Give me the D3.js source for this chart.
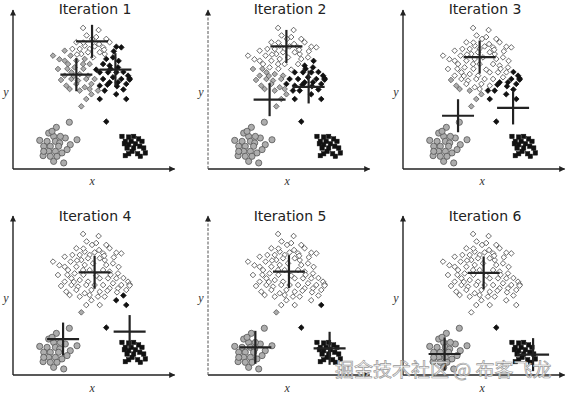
<!DOCTYPE html>
<html>
<head>
<meta charset="utf-8">
<script src="https://cdn.jsdelivr.net/npm/d3@7"></script>
<style>
  body { margin: 0; background: #fff; }
  svg { display: block; }
</style>
</head>
<body>
<div id="chart"></div>
<script>
var w = 566;
var h = 394;

// iteration titles
var iterations = ["Iteration 1", "Iteration 2", "Iteration 3", "Iteration 4", "Iteration 5", "Iteration 6"];

// points (same in every panel), x / y in data units 0..10
var diamonds = [
  [4.38, 8.87], [5.35, 8.74], [4.94, 8.18], [5.83, 8.18], [3.96, 7.97], [5.38, 7.86],
  [6.04, 7.97], [4.48, 7.76], [3.71, 7.55], [4.17, 7.55], [4.79, 7.55], [5.10, 7.71],
  [5.63, 7.65], [6.46, 7.69], [6.77, 7.65], [2.50, 7.13], [3.23, 7.44], [3.60, 7.13],
  [4.27, 7.23], [4.69, 7.34], [5.42, 7.34], [5.73, 7.23], [3.23, 6.81], [3.96, 6.81],
  [4.48, 6.92], [5.00, 7.02], [5.83, 6.92], [6.25, 7.02], [2.81, 6.29], [3.44, 6.60],
  [3.85, 6.39], [4.38, 6.60], [4.79, 6.60], [5.63, 6.60], [6.04, 6.50], [6.56, 6.39],
  [3.23, 5.87], [3.65, 6.08], [4.17, 5.97], [4.69, 5.87], [5.42, 6.08], [5.94, 6.08],
  [6.46, 6.08], [7.19, 5.87], [7.29, 5.70], [3.65, 5.66], [4.06, 5.56], [4.58, 5.66],
  [5.10, 5.66], [5.63, 5.66], [6.25, 5.77], [6.77, 5.66], [3.33, 5.24], [3.96, 5.35],
  [4.48, 5.14], [4.90, 5.35], [5.42, 5.24], [6.04, 5.45], [6.56, 5.45], [7.08, 5.35],
  [3.54, 5.03], [4.17, 4.93], [4.79, 5.03], [5.31, 4.93], [5.73, 4.93], [4.58, 4.40],
  [5.42, 4.40], [4.27, 3.94], [2.90, 6.90], [3.00, 5.60], [4.00, 7.20], [4.60, 8.40],
  [5.20, 8.30], [6.30, 7.40], [6.60, 6.80], [6.90, 6.10], [6.90, 5.00], [3.80, 5.85],
  [4.40, 6.30], [5.20, 6.25], [5.90, 5.30], [6.10, 6.30], [3.40, 6.30], [4.90, 4.70],
  [5.70, 7.50], [4.40, 7.95], [6.50, 5.20], [7.29, 5.62], [6.45, 4.70], [7.08, 4.40],
  [5.83, 2.98]
];

var circles = [
  [3.52, 2.94], [2.71, 2.62], [2.23, 2.26], [2.54, 2.05], [3.27, 1.95], [4.00, 1.84],
  [1.67, 1.80], [2.13, 1.74], [2.65, 1.74], [2.92, 1.64], [1.92, 1.43], [2.33, 1.43],
  [2.85, 1.43], [3.58, 1.53], [2.23, 1.11], [2.65, 1.11], [3.06, 1.01], [1.88, 0.84],
  [2.33, 0.80], [2.54, 0.48], [3.17, 0.38], [2.44, 2.37], [2.96, 2.05], [3.38, 1.22],
  [1.92, 1.11], [2.75, 0.80]
];

var squares = [
  [6.81, 2.05], [7.23, 2.01], [7.54, 2.05], [7.85, 1.89], [7.02, 1.74], [7.38, 1.74],
  [6.96, 1.59], [7.23, 1.53], [7.65, 1.59], [8.06, 1.74], [7.13, 1.32], [7.54, 1.32],
  [7.92, 1.43], [8.17, 1.32], [7.44, 1.11], [7.23, 0.96], [7.79, 0.96], [8.27, 1.01],
  [7.02, 0.84], [7.96, 0.80]
];

// centroids per iteration
var whiteCentroids = [[4.94, 8.03], [4.90, 7.71], [4.79, 7.04], [5.10, 6.46], [5.06, 6.50], [5.04, 6.42]];
var grayCentroids  = [[3.96, 5.93], [3.85, 4.36], [3.44, 3.35], [3.13, 2.26], [2.96, 1.74], [2.60, 1.32]];
var blackCentroids = [[6.40, 6.25], [6.29, 5.16], [6.88, 3.84], [7.29, 2.73], [7.60, 1.68], [8.13, 1.28]];

var fills = ["#ffffff", "#adadad", "#111111"];
var strokes = ["#444444", "#555555", "#111111"];

var colX = [13, 208, 403];
var rowY = [169, 375];

var svg = d3.select("#chart")
            .append("svg")
            .attr("width", w)
            .attr("height", h);

var defs = svg.append("defs");
defs.append("marker")
    .attr("id", "arrow")
    .attr("viewBox", "0 0 10 10")
    .attr("refX", 9)
    .attr("refY", 5)
    .attr("markerWidth", 7)
    .attr("markerHeight", 6)
    .attr("markerUnits", "userSpaceOnUse")
    .attr("orient", "auto")
    .append("path")
    .attr("d", "M0,0 L10,5 L0,10 Z")
    .attr("fill", "#222");

function nearest(p, k) {
    var cs = [whiteCentroids[k], grayCentroids[k], blackCentroids[k]];
    var best = 0, bd = Infinity;
    cs.forEach(function(c, i) {
        var d = (p[0] - c[0]) * (p[0] - c[0]) + (p[1] - c[1]) * (p[1] - c[1]);
        if (d < bd) { bd = d; best = i; }
    });
    return best;
}

var diamondPath = "M0,-2.8 L2.8,0 L0,2.8 L-2.8,0 Z";

iterations.forEach(function(title, k) {
    var col = k % 3, row = Math.floor(k / 3);
    var ox = colX[col], oy = rowY[row];

    var x = d3.scaleLinear().domain([0, 10]).range([ox, ox + 160]);
    var y = d3.scaleLinear().domain([0, 10]).range([oy, oy - 159]);

    var g = svg.append("g");

    // axes
    g.append("line")
     .attr("x1", x(0)).attr("y1", y(0))
     .attr("x2", x(10.1)).attr("y2", y(0))
     .attr("stroke", "#222")
     .attr("stroke-width", 1.4)
     .attr("marker-end", "url(#arrow)");

    g.append("line")
     .attr("x1", x(0)).attr("y1", y(0))
     .attr("x2", x(0)).attr("y2", y(10))
     .attr("stroke", col == 1 ? "#555" : "#222")
     .attr("stroke-width", col == 1 ? 1 : 1.4)
     .attr("stroke-dasharray", col == 1 ? "3,1.5" : null)
     .attr("marker-end", "url(#arrow)");

    g.append("text")
     .text(title)
     .attr("x", ox + 82)
     .attr("y", row == 0 ? 14 : 221)
     .attr("text-anchor", "middle")
     .style("font-family", "DejaVu Sans, Verdana, sans-serif")
     .style("font-size", "14px")
     .style("fill", "#222");

    g.append("text")
     .text("x")
     .attr("x", x(4.95))
     .attr("y", oy + (row == 0 ? 16 : 17))
     .attr("text-anchor", "middle")
     .style("font-family", "Liberation Serif, serif")
     .style("font-style", "italic")
     .style("font-size", "12px")
     .style("fill", "#333");

    g.append("text")
     .text("y")
     .attr("x", ox - 7)
     .attr("y", oy - 73)
     .attr("text-anchor", "middle")
     .style("font-family", "Liberation Serif, serif")
     .style("font-style", "italic")
     .style("font-size", "12px")
     .style("fill", "#333");

    // circles
    g.selectAll(".c")
     .data(circles)
     .enter()
     .append("circle")
     .attr("cx", function(d) { return x(d[0]); })
     .attr("cy", function(d) { return y(d[1]); })
     .attr("r", 3.1)
     .attr("fill", function(d) { return fills[nearest(d, k)]; })
     .attr("stroke", function(d) { return strokes[nearest(d, k)]; })
     .attr("stroke-width", 0.8);

    // squares
    g.selectAll(".s")
     .data(squares)
     .enter()
     .append("rect")
     .attr("x", function(d) { return x(d[0]) - 2.2; })
     .attr("y", function(d) { return y(d[1]) - 2.2; })
     .attr("width", 4.4)
     .attr("height", 4.4)
     .attr("fill", function(d) { return fills[nearest(d, k)]; })
     .attr("stroke", function(d) { return strokes[nearest(d, k)]; })
     .attr("stroke-width", 0.5);

    // diamonds
    g.selectAll(".d")
     .data(diamonds)
     .enter()
     .append("path")
     .attr("d", diamondPath)
     .attr("transform", function(d) { return "translate(" + x(d[0]) + "," + y(d[1]) + ")"; })
     .attr("fill", function(d) { return fills[nearest(d, k)]; })
     .attr("stroke", function(d) { return strokes[nearest(d, k)]; })
     .attr("stroke-width", 0.8);

    // centroid crosses
    var cents = [whiteCentroids[k], grayCentroids[k], blackCentroids[k]];
    cents.forEach(function(c) {
        g.append("line")
         .attr("x1", x(c[0]) - 16).attr("x2", x(c[0]) + 16)
         .attr("y1", y(c[1])).attr("y2", y(c[1]))
         .attr("stroke", "#222").attr("stroke-width", 2.2);
        g.append("line")
         .attr("x1", x(c[0])).attr("x2", x(c[0]))
         .attr("y1", y(c[1]) - 16.5).attr("y2", y(c[1]) + 16.5)
         .attr("stroke", "#222").attr("stroke-width", 2.2);
    });
});

// watermark
svg.append("text")
   .text("掘金技术社区 @ 布客飞龙")
   .attr("x", 335)
   .attr("y", 377)
   .style("font-family", "Noto Sans CJK SC, sans-serif")
   .style("font-size", "19px")
   .style("fill", "#fff")
   .style("fill-opacity", 0.85)
   .style("stroke", "#999")
   .style("stroke-width", 0.7);
</script>
</body>
</html>
